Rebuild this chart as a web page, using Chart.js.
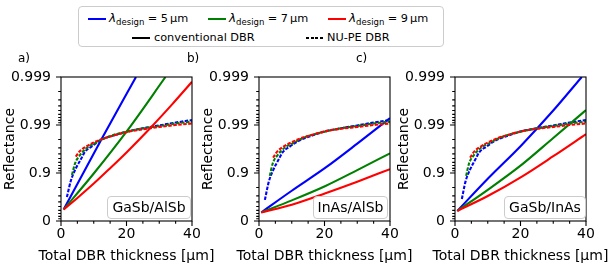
<!DOCTYPE html>
<html><head><meta charset="utf-8">
<script src="https://cdn.jsdelivr.net/npm/chart.js@4/dist/chart.umd.min.js"></script>
<style>
html,body{margin:0;padding:0;background:#fff;}
#wrap{position:relative;width:612px;height:276px;overflow:hidden;font-family:"DejaVu Sans",sans-serif;color:#000;}
canvas{position:absolute;left:0;top:0;}
.leg{position:absolute;left:78px;top:6px;width:366px;height:41px;border:1px solid #cccccc;border-radius:4px;box-sizing:border-box;background:#fff;}
.li{position:absolute;font-size:11.3px;line-height:14px;white-space:nowrap;}
.li i{font-size:12px;}
.li sub{font-size:8.5px;vertical-align:-3px;line-height:0;}
.li .eq{margin:0 3.5px;}
.li .u{margin-left:2px;}
.ln{position:absolute;height:2px;}
.box{position:absolute;border:1.4px solid #cccccc;border-radius:4px;background:rgba(255,255,255,0.8);font-size:14px;line-height:20px;text-align:center;box-sizing:border-box;height:23px;top:196px;}
.pl{position:absolute;font-size:12px;line-height:14px;top:51px;}
</style></head><body>
<div id="wrap">
<canvas id="cA" width="612" height="276"></canvas>
<canvas id="cB" width="612" height="276"></canvas>
<canvas id="cC" width="612" height="276"></canvas>

<div class="leg"></div>
<div class="ln" style="left:88px;width:18px;top:18px;background:#0000ff"></div>
<div class="li" style="left:109px;top:11px"><i>λ</i><sub>design</sub><span class="eq">=</span>5<span class="u">µm</span></div>
<div class="ln" style="left:208px;width:18px;top:18px;background:#008000"></div>
<div class="li" style="left:229px;top:11px"><i>λ</i><sub>design</sub><span class="eq">=</span>7<span class="u">µm</span></div>
<div class="ln" style="left:328px;width:18px;top:18px;background:#ff0000"></div>
<div class="li" style="left:349px;top:11px"><i>λ</i><sub>design</sub><span class="eq">=</span>9<span class="u">µm</span></div>
<div class="ln" style="left:132px;width:18px;top:37px;background:#000"></div>
<div class="li" style="left:154px;top:31px">conventional DBR</div>
<div class="ln" style="left:306px;width:18px;top:37px;background:repeating-linear-gradient(to right,#000 0 3px,transparent 3px 4.5px)"></div>
<div class="li" style="left:327px;top:31px">NU-PE DBR</div>

<div class="pl" style="left:18px">a)</div>
<div class="pl" style="left:187px">b)</div>
<div class="pl" style="left:356px">c)</div>

<div class="box" style="left:107px;width:84px">GaSb/AlSb</div>
<div class="box" style="left:313px;width:75px">InAs/AlSb</div>
<div class="box" style="left:504px;width:82px">GaSb/InAs</div>
</div>
<script>
// ---- data: total DBR thickness (µm) and reflectance ----
const yTickLabels = ["0", "0.9", "0.99", "0.999"];
const xTickValues = [0, 20, 40];

// Panel a: GaSb/AlSb
const a_conv5_t = [0.8, 12.4, 22.9];
const a_conv5_R = [0.4246, 0.9805, 0.999];
const a_conv7_t = [0.8, 10, 20.4, 31.9];
const a_conv7_R = [0.4246, 0.8977, 0.9874, 0.999];
const a_conv9_t = [0.8, 5, 10, 15, 20, 27.65, 34, 40];
const a_conv9_R = [0.4246, 0.6689, 0.8340, 0.9206, 0.9628, 0.98916, 0.99633, 0.99874];
const a_nupe5_t = [1.8, 3.05, 4.7, 6.1, 7.3, 9.5, 12.2, 16, 20, 25, 30, 35, 40];
const a_nupe5_R = [0.6838, 0.8587, 0.9241, 0.9487, 0.9637, 0.9725, 0.9796, 0.9834, 0.9862, 0.9883, 0.9898, 0.9911, 0.9921];
const a_nupe7_t = [3.35, 4.3, 5.8, 8.2, 10.4, 12.2, 16, 20, 25, 30, 35, 40];
const a_nupe7_R = [0.8904, 0.9369, 0.9578, 0.9712, 0.9760, 0.9796, 0.9838, 0.9862, 0.9883, 0.9895, 0.9907, 0.9915];
const a_nupe9_t = [4.5, 5.8, 8.2, 10.4, 12.2, 16, 20, 25, 30, 35, 40];
const a_nupe9_R = [0.9543, 0.9653, 0.9731, 0.9776, 0.9800, 0.9834, 0.9859, 0.9877, 0.9890, 0.9900, 0.9907];

// Panel b: InAs/AlSb
const b_conv5_t = [0.7, 10, 20.3, 30, 40];
const b_conv5_R = [0.3393, 0.7656, 0.9224, 0.9755, 0.9928];
const b_conv7_t = [0.7, 10, 20.3, 30, 40];
const b_conv7_R = [0.3393, 0.6285, 0.8138, 0.9129, 0.9611];
const b_conv9_t = [0.7, 10, 20.3, 30, 40];
const b_conv9_R = [0.3393, 0.5429, 0.7370, 0.8486, 0.9168];
const b_nupe5_t = [1.8, 3.0, 4.6, 6.0, 7.2, 9.4, 12.1, 16.2, 20.3, 25, 30, 35, 40];
const b_nupe5_R = [0.6369, 0.8486, 0.9206, 0.9475, 0.9628, 0.9718, 0.9786, 0.9834, 0.9865, 0.9883, 0.9898, 0.9911, 0.9921];
const b_nupe7_t = [3.3, 4.2, 5.7, 8.1, 10.4, 12.2, 16, 20, 25, 30, 35, 40];
const b_nupe7_R = [0.8852, 0.9369, 0.9578, 0.9712, 0.9760, 0.9796, 0.9838, 0.9862, 0.9883, 0.9895, 0.9907, 0.9915];
const b_nupe9_t = [4.3, 5.6, 8.0, 10.3, 12.2, 16, 20.3, 25, 30, 35, 40];
const b_nupe9_R = [0.9521, 0.9645, 0.9731, 0.9776, 0.9805, 0.9838, 0.9865, 0.9880, 0.9890, 0.9900, 0.9907];

// Panel c: GaSb/InAs
const c_conv5_t = [0.7, 10, 20.3, 30, 38.7];
const c_conv5_R = [0.3834, 0.8682, 0.9737, 0.9950, 0.999];
const c_conv7_t = [0.7, 10, 20.3, 30, 40];
const c_conv7_R = [0.3834, 0.7761, 0.9324, 0.9814, 0.9951];
const c_conv9_t = [0.7, 10, 20.3, 30, 40];
const c_conv9_R = [0.3834, 0.6980, 0.8798, 0.9553, 0.9845];
const c_nupe5_t = [2.1, 3.2, 4.8, 6.2, 7.4, 9.6, 12.2, 16.2, 20.3, 25, 30, 35, 40];
const c_nupe5_R = [0.6533, 0.8486, 0.9206, 0.9475, 0.9628, 0.9718, 0.9786, 0.9834, 0.9865, 0.9883, 0.9898, 0.9911, 0.9921];
const c_nupe7_t = [3.4, 4.3, 5.8, 8.2, 10.5, 12.3, 16, 20, 25, 30, 35, 40];
const c_nupe7_R = [0.8852, 0.9369, 0.9578, 0.9712, 0.9760, 0.9796, 0.9838, 0.9862, 0.9883, 0.9895, 0.9907, 0.9915];
const c_nupe9_t = [4.6, 5.9, 8.3, 10.5, 12.4, 16, 20.3, 25, 30, 35, 40];
const c_nupe9_R = [0.9521, 0.9645, 0.9731, 0.9776, 0.9805, 0.9838, 0.9865, 0.9880, 0.9890, 0.9900, 0.9907];

// ---- drawing ----
const FONT = "DejaVu Sans";
const BLUE = "#0000ff", GREEN = "#008000", RED = "#ff0000";
const nines = R => Math.min(3, -Math.log10(1 - R));
const pts = (t, R) => t.map((x, i) => ({x: x, y: nines(R[i])}));

function ds(t, R, color, dashed, order) {
  return {data: pts(t, R), borderColor: color, borderWidth: 2.1, borderDash: dashed ? [3.5, 1.5] : [],
    pointRadius: 0, fill: false, cubicInterpolationMode: 'monotone', order: order};
}

const frame = {
  id: 'frame',
  afterDraw(chart) {
    const ctx = chart.ctx, a = chart.chartArea, xs = chart.scales.x, ys = chart.scales.y;
    ctx.save();
    ctx.strokeStyle = '#000';
    ctx.lineWidth = 1.1;
    ctx.strokeRect(a.left, a.top, a.right - a.left, a.bottom - a.top);
    ctx.beginPath();
    for (let d = 0; d <= 3; d++) {
      const py = ys.getPixelForValue(d);
      ctx.moveTo(a.left - 5, py); ctx.lineTo(a.left, py);
      if (d < 3) {
        for (let k = 1; k <= 8; k++) {
          const v = d - Math.log10(1 - k / 10);
          const p = ys.getPixelForValue(v);
          ctx.moveTo(a.left - 2.8, p); ctx.lineTo(a.left, p);
        }
      }
    }
    for (let v = 0; v <= 40; v += 5) {
      const px = xs.getPixelForValue(v);
      const len = (v % 20 === 0) ? 5 : 2.8;
      ctx.moveTo(px, a.bottom); ctx.lineTo(px, a.bottom + len);
    }
    ctx.stroke();
    ctx.fillStyle = '#000';
    ctx.font = "14px '" + FONT + "'";
    ctx.textAlign = 'center';
    ctx.textBaseline = 'alphabetic';
    ctx.fillText("Total DBR thickness [µm]", (a.left + a.right) / 2, 260);
    ctx.translate(a.left - 52 + 5.3, (a.top + a.bottom) / 2);
    ctx.rotate(-Math.PI / 2);
    ctx.fillText("Reflectance", 0, 0);
    ctx.restore();
  }
};

const YW = 50, XH = 50;
function makePanel(id, left, right, sets) {
  const top = 77, bottom = 221;
  new Chart(document.getElementById(id), {
    type: 'line',
    data: {datasets: sets},
    options: {
      responsive: false, animation: false,
      layout: {padding: {left: left - YW, right: 612 - right, top: top, bottom: 276 - bottom - XH}},
      plugins: {legend: {display: false}, tooltip: {enabled: false}},
      scales: {
        x: {type: 'linear', min: 0, max: 40,
          afterFit: s => { s.height = XH; },
          afterBuildTicks: s => { s.ticks = xTickValues.map(v => ({value: v})); },
          grid: {display: false, drawTicks: false}, border: {display: false},
          ticks: {padding: 5, autoSkip: false, maxRotation: 0, color: '#000', font: {family: FONT, size: 14}}},
        y: {type: 'linear', min: 0, max: 3,
          afterFit: s => { s.width = YW; },
          grid: {display: false, drawTicks: false}, border: {display: false},
          ticks: {stepSize: 1, padding: 10, color: '#000', font: {family: FONT, size: 14},
            callback: v => yTickLabels[v]}}
      }
    },
    plugins: [frame]
  });
}

makePanel('cA', 61, 192, [
  ds(a_conv5_t, a_conv5_R, BLUE, false, 6), ds(a_nupe5_t, a_nupe5_R, BLUE, true, 5),
  ds(a_conv7_t, a_conv7_R, GREEN, false, 4), ds(a_nupe7_t, a_nupe7_R, GREEN, true, 3),
  ds(a_conv9_t, a_conv9_R, RED, false, 2), ds(a_nupe9_t, a_nupe9_R, RED, true, 1)]);
makePanel('cB', 259, 390, [
  ds(b_conv5_t, b_conv5_R, BLUE, false, 6), ds(b_nupe5_t, b_nupe5_R, BLUE, true, 5),
  ds(b_conv7_t, b_conv7_R, GREEN, false, 4), ds(b_nupe7_t, b_nupe7_R, GREEN, true, 3),
  ds(b_conv9_t, b_conv9_R, RED, false, 2), ds(b_nupe9_t, b_nupe9_R, RED, true, 1)]);
makePanel('cC', 455, 586, [
  ds(c_conv5_t, c_conv5_R, BLUE, false, 6), ds(c_nupe5_t, c_nupe5_R, BLUE, true, 5),
  ds(c_conv7_t, c_conv7_R, GREEN, false, 4), ds(c_nupe7_t, c_nupe7_R, GREEN, true, 3),
  ds(c_conv9_t, c_conv9_R, RED, false, 2), ds(c_nupe9_t, c_nupe9_R, RED, true, 1)]);
</script>
</body></html>
